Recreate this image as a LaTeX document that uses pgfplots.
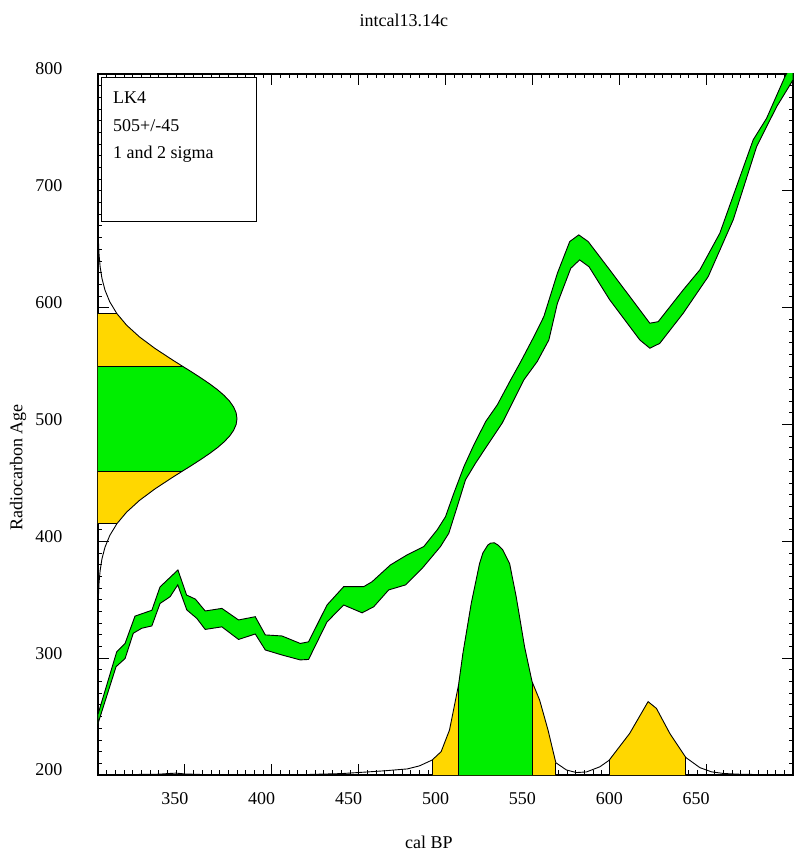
\documentclass[border=0pt]{standalone}
\usepackage{fontspec}
\setmainfont{Liberation Serif}
\usepackage{pgfplots}
\pgfplotsset{compat=1.18}
\definecolor{calgreen}{RGB}{0,238,0}
\definecolor{calgold}{RGB}{255,215,0}
\newcommand\chartfont{\fontsize{18}{21.6}\selectfont}
\begin{document}
\begin{tikzpicture}
\useasboundingbox (-98pt,-78pt) rectangle (696pt,775pt);
\begin{axis}[
  scale only axis, width=695pt, height=701pt,
  at={(0,0)}, anchor=south west,
  xmin=300, xmax=700, ymin=200, ymax=800,
  xtick={350,400,...,650}, ytick={200,300,...,800},
  minor xtick={300,305,...,700}, minor ytick={200,210,...,800},
  major tick length=11pt, minor tick length=4.5pt,
  tick align=inside,
  axis line style={line width=1.5pt},
  every tick/.style={black, line width=0.8pt},
  /pgf/number format/assume math mode=true,
  tick label style={font=\chartfont},
  xticklabel style={xshift=-10pt, yshift=-14pt},
  yticklabel style={xshift=-32pt, yshift=5pt},
  label style={font=\chartfont},
  title style={font=\chartfont},
  title={intcal13.14c},
  title style={at={(axis description cs:0.44,1.068)}, anchor=center},
  xlabel={cal BP},
  xlabel style={at={(axis description cs:0.476,-0.0956)}, anchor=center},
  ylabel={Radiocarbon Age},
  ylabel style={at={(axis description cs:-0.115,0.439)}, anchor=center},
]
% ---- calibration curve band ----
\addplot[fill=calgreen, draw=black, line width=0.9pt] coordinates {
(300,252) (310.8,305.6) (315.6,312.7) (321.3,336) (331,341) (335.7,361) (346,375.5)
(351,354) (356,350.6) (361.7,340.4) (371.3,342.6) (380.9,332.7) (390.5,335.5)
(396.3,319.9) (405.9,319) (416.4,312.6) (421.2,314) (431.8,345.5) (441.4,361.2)
(452.9,361.2) (457.7,365.4) (468.3,379.8) (477.9,388.4) (487.5,395.5) (495.2,409.8)
(500,421.1) (504.8,441.2) (510.6,464) (516.3,482.5) (523.1,502.5) (529.8,516.8)
(537.5,538.2) (543.2,553.5) (550.9,575.3) (556.6,592.4) (564.4,629.5) (571.5,656.6)
(576.7,662.3) (582.1,656.6) (594.5,632.4) (617.6,586.7) (622.4,588) (636.8,615.2)
(646.4,632.4) (657.9,663.8) (677.1,743.7) (684.8,762.1) (695.4,797.9) (700,810)
(700,795) (698.3,790.7) (690.6,772) (679.1,738) (665.6,675.2) (651.2,626.6)
(636.8,595.2) (623.3,569.4) (617.6,565.3) (611.8,572.4) (594.5,606.7) (582.6,635)
(577.2,640.9) (572.1,633.7) (564.4,603.7) (559.5,572.4) (552.8,553.9) (545.1,538.2)
(539.3,521) (532.6,501.1) (524.9,484) (517.3,466.9) (511.5,452.6) (506.7,429.5)
(501.9,406.9) (497.1,395.5) (486.6,376.9) (477,362.7) (467.3,358.4) (458.7,344)
(452,338.8) (441.4,345.5) (431.8,331) (421.2,298.9) (416.4,298.5) (405.9,302.7)
(396.3,307) (390.5,320.7) (380.9,316) (371.3,326.8) (361.7,324.6) (356.9,334)
(351.1,341.3) (345.9,362.7) (341.5,352.6) (335.7,346.8) (331,327.6) (325.2,325.6)
(320.3,321.3) (315.6,299.7) (310.4,292.7) (300,244)
} -- cycle;
% ---- calibrated distribution: 2 sigma fills ----
\addplot[fill=calgold, draw=none] coordinates {
(492.3,200) (492.3,212.8) (497.5,220) (502.3,238.5) (507.5,277) (510,304) (514.8,346.8)
(519.6,381) (521.5,390) (524.4,396.9) (526,398.5) (528.2,398.7) (530.5,396.5) (533,392.6)
(536.9,381) (540.7,352.5) (545.5,309.8) (549.8,280) (554.2,264) (559,238.5) (563.5,210.5)
(563.5,200)
} -- cycle;
\addplot[fill=calgold, draw=none] coordinates {
(594.1,200) (594.1,212.5) (606,235.6) (616.6,262.8) (621.4,257) (629.1,235.6) (638.3,215)
(638.3,200)
} -- cycle;
% ---- 1 sigma fill ----
\addplot[fill=calgreen, draw=none] coordinates {
(507.5,200) (507.5,277) (510,304) (514.8,346.8) (519.6,381) (521.5,390) (524.4,396.9)
(526,398.5) (528.2,398.7) (530.5,396.5) (533,392.6) (536.9,381) (540.7,352.5)
(545.5,309.8) (549.8,280) (549.8,200)
} -- cycle;
% ---- distribution outline ----
\addplot[black, line width=0.9pt] coordinates {
(300,200.3) (320,200.4) (335,200.7) (340,201.2) (345,201.6) (350,200.9) (360,200.4)
(380,200.2) (400,200.2) (420,200.4) (440,201.2) (455,202.6) (465,203.6) (478,205.2)
(485,207.8) (492.3,212.8) (497.5,220) (502.3,238.5) (507.5,277) (510,304) (514.8,346.8)
(519.6,381) (521.5,390) (524.4,396.9) (526,398.5) (528.2,398.7) (530.5,396.5) (533,392.6)
(536.9,381) (540.7,352.5) (545.5,309.8) (549.8,280) (554.2,264) (559,238.5) (563.5,210.5)
(569.6,204.3) (575.3,202.1) (581.1,202.6) (588.8,207) (594.1,212.5) (606,235.6)
(616.6,262.8) (621.4,257) (629.1,235.6) (638.3,215) (646.4,206.3) (653.1,202.7)
(660,201.3) (670,200.6) (685,200.3) (700,200.2)
};
\addplot[black, line width=0.7pt] coordinates {(492.3,200) (492.3,212.8)};
\addplot[black, line width=0.7pt] coordinates {(507.5,200) (507.5,277)};
\addplot[black, line width=0.7pt] coordinates {(549.8,200) (549.8,280)};
\addplot[black, line width=0.7pt] coordinates {(563.5,200) (563.5,210.5)};
\addplot[black, line width=0.7pt] coordinates {(594.1,200) (594.1,212.5)};
\addplot[black, line width=0.7pt] coordinates {(638.3,200) (638.3,215)};
% ---- radiocarbon age distribution (left) ----
\addplot[fill=calgold, draw=none] coordinates {
(300,415) (310.83,415) (316.47,425) (323.86,435) (332.9,445) (343.15,455) (348.5,460)
(353.9,465) (359.1,470) (364.06,475) (368.6,480) (372.5,485) (375.7,490) (378.05,495)
(379.5,500) (380,505) (379.5,510) (378.05,515) (375.7,520) (372.5,525) (368.6,530)
(364.06,535) (359.1,540) (353.9,545) (348.5,550) (343.15,555) (332.9,565) (323.86,575)
(316.47,585) (310.83,595) (300,595)
} -- cycle;
\addplot[fill=calgreen, draw=none] coordinates {
(300,460) (348.5,460)
(353.9,465) (359.1,470) (364.06,475) (368.6,480) (372.5,485) (375.7,490) (378.05,495)
(379.5,500) (380,505) (379.5,510) (378.05,515) (375.7,520) (372.5,525) (368.6,530)
(364.06,535) (359.1,540) (353.9,545) (348.5,550) (300,550)
} -- cycle;
\addplot[black, line width=0.9pt] coordinates {
(300.06,335) (300.14,345) (300.31,355) (300.63,365) (301.23,375) (302.28,385) (304.03,395)
(306.77,405) (310.83,415) (316.47,425) (323.86,435) (332.9,445) (343.15,455) (348.5,460)
(353.9,465) (359.1,470) (364.06,475) (368.6,480) (372.5,485) (375.7,490) (378.05,495)
(379.5,500) (380,505) (379.5,510) (378.05,515) (375.7,520) (372.5,525) (368.6,530)
(364.06,535) (359.1,540) (353.9,545) (348.5,550) (343.15,555) (332.9,565) (323.86,575)
(316.47,585) (310.83,595) (306.77,605) (304.03,615) (302.28,625) (301.23,635)
(300.63,645) (300.31,655) (300.14,665) (300.06,675)
};
\addplot[black, line width=0.7pt] coordinates {(300,415) (310.83,415)};
\addplot[black, line width=0.7pt] coordinates {(300,460) (348.5,460)};
\addplot[black, line width=0.7pt] coordinates {(300,550) (348.5,550)};
\addplot[black, line width=0.7pt] coordinates {(300,595) (310.83,595)};
% ---- info box ----
\draw[line width=1.3pt, fill=white] (axis cs:302.1,673.7) rectangle (axis cs:391.1,797.3);
\node[anchor=base west, inner sep=0pt, font=\chartfont] at (axis cs:308.6,774.5) {LK4};
\node[anchor=base west, inner sep=0pt, font=\chartfont] at (axis cs:308.6,750.8) {505+/-45};
\node[anchor=base west, inner sep=0pt, font=\chartfont] at (axis cs:308.6,728) {1 and 2 sigma};
\end{axis}
\end{tikzpicture}
\end{document}
